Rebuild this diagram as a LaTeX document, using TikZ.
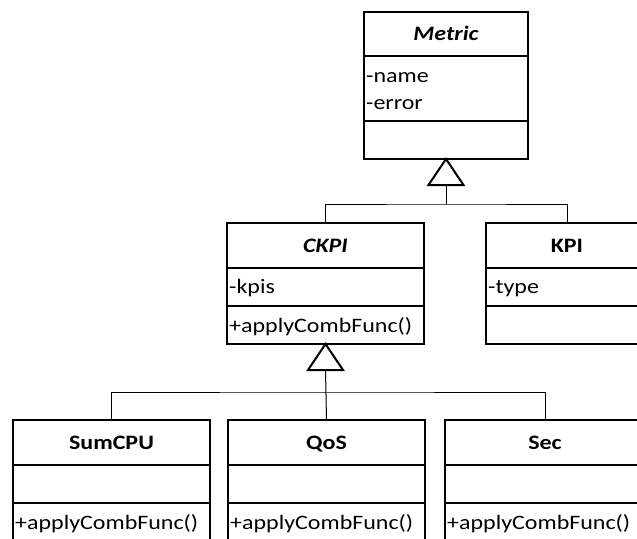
\documentclass[tikz,border=0pt]{standalone}
\usepackage{fontspec}
\setmainfont{Carlito}[FakeStretch=1.17]
\usetikzlibrary{calc}

% One UML class: name, left, top, right, first divider, second divider, bottom, title
\newcommand\umlclass[8]{%
  \node[classframe, minimum width={(#4-#2)*1pt}, minimum height={(#7-#3)*1pt}]
    (#1) at ({(#2+#4)/2},{(#3+#7)/2}) {};
  \draw[classline] (#2,#5) -- (#4,#5) (#2,#6) -- (#4,#6);
  \node[titletext] (#1-title) at ({(#2+#4)/2},{(#3+#5)/2+6.5}) {#8};
}

\tikzset{
  classframe/.style={draw, line width=2pt, inner sep=0pt, outer sep=0pt},
  classline/.style={line width=2pt},
  titletext/.style={anchor=base, inner sep=0pt, font=\fontsize{20.5}{24}\selectfont\bfseries},
  member/.style={anchor=base west, inner sep=0pt, font=\fontsize{20.5}{24}\selectfont},
  conn/.style={line width=1pt},
  gentri/.style={draw, line width=2pt, fill=white, line join=miter},
}

\begin{document}
\begin{tikzpicture}[x=1pt, y=-1pt]
  \useasboundingbox (0,0) rectangle (637,538);
  \clip (0,0) rectangle (637,538);

  % classes
  \umlclass{metric}{364}{12}{528}{56}{121}{159}{\itshape Metric}
  \node[member] (metric-name)  at (366,82)  {-name};
  \node[member] (metric-error) at (366,109) {-error};

  \umlclass{ckpi}{227}{223}{424}{268}{306}{344}{\itshape CKPI}
  \node[member] (ckpi-kpis) at (229,293) {-kpis};
  \node[member] (ckpi-op)   at (229,332) {+applyCombFunc()};

  \umlclass{kpi}{486}{223}{648}{268}{306}{344}{KPI}
  \node[member] (kpi-type) at (488,293) {-type};

  \umlclass{sumcpu}{13}{420}{210}{465}{503}{570}{SumCPU}
  \node[member] (sumcpu-op) at (15,529) {+applyCombFunc()};

  \umlclass{qos}{228}{420}{425}{465}{503}{570}{QoS}
  \node[member] (qos-op) at (230,529) {+applyCombFunc()};

  \umlclass{sec}{445}{420}{645}{465}{503}{570}{Sec}
  \node[member] (sec-op) at (447,529) {+applyCombFunc()};

  % generalisation: CKPI and KPI specialise Metric
  \coordinate (j1) at ($(metric.south)+(0,45)$);
  \draw[conn] (ckpi.north) |- (j1) -| (kpi.north);
  \draw[conn] (j1) -- ($(metric.south)+(0,26)$);
  \draw[gentri] (metric.south) -- ++(-17.5,26) -- ++(35,0) -- cycle;

  % generalisation: SumCPU, QoS and Sec specialise CKPI
  \coordinate (j2) at ($(ckpi.south)+(0,48)$);
  \draw[conn] (sumcpu.north) |- (j2) -| (sec.north);
  \draw[conn] (qos.north) -- ($(ckpi.south)+(0,26)$);
  \draw[gentri] (ckpi.south) -- ++(-17.5,26) -- ++(35,0) -- cycle;
\end{tikzpicture}
\end{document}
